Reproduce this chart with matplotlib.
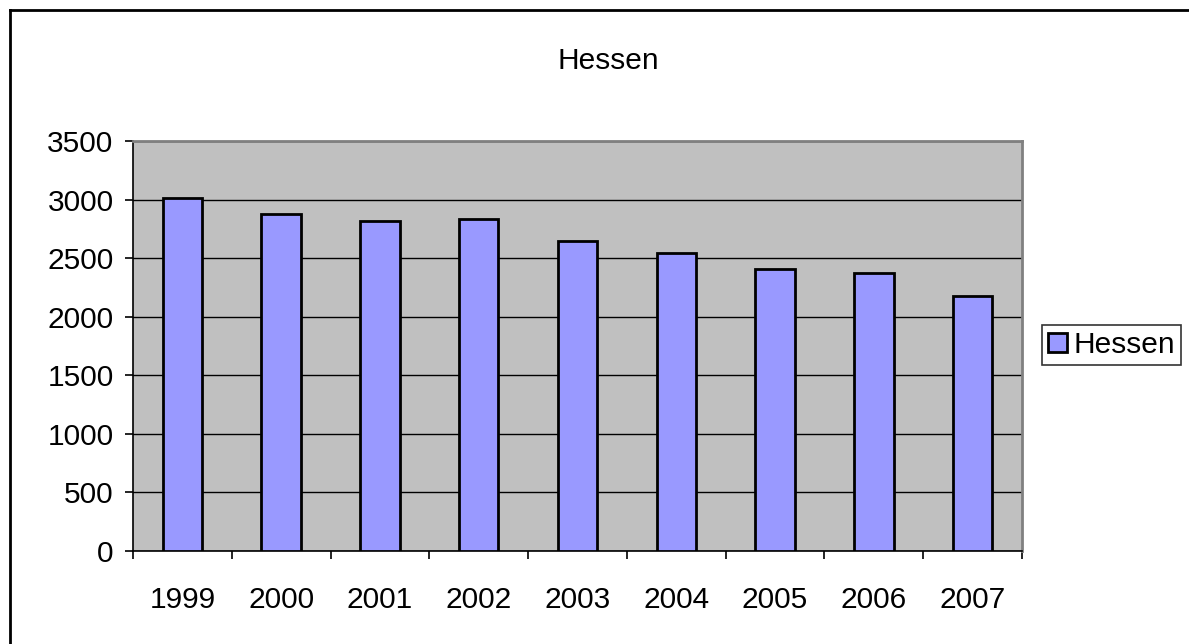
import matplotlib
matplotlib.use("Agg")
import matplotlib.pyplot as plt
from matplotlib.lines import Line2D

years = ["1999", "2000", "2001", "2002", "2003", "2004", "2005", "2006", "2007"]
hessen = [3010, 2880, 2820, 2835, 2650, 2540, 2410, 2370, 2175]
y_ticks = [0, 500, 1000, 1500, 2000, 2500, 3000, 3500]

plt.rcParams['font.family'] = ['Liberation Sans', 'DejaVu Sans']

W, H = 1189, 644
fig = plt.figure(figsize=(W / 100, H / 100), dpi=100)
fig.patch.set_facecolor('white')

# plot area in pixel coords
left, right, top, bottom = 133, 1022, 141, 551
ax = fig.add_axes([left / W, 1 - bottom / H, (right - left) / W, (bottom - top) / H])
ax.set_facecolor('#C0C0C0')

pos = [i + 0.5 for i in range(len(years))]
ax.bar(pos, hessen, width=0.4, color='#9999FF', edgecolor='black',
       linewidth=2.0, label='Hessen', zorder=3)

ax.set_xlim(0, len(years))
ax.set_ylim(0, 3500)
ax.set_yticks(y_ticks)
ax.set_yticklabels([str(v) for v in y_ticks])
ax.yaxis.grid(True, color='black', linewidth=1.0, zorder=1)
ax.set_axisbelow(True)

fs = 21.5
ax.set_xticks(pos)
ax.set_xticklabels(years)
ax.set_xticks(range(len(years) + 1), minor=True)
ax.tick_params(axis='x', which='major', length=0, pad=25, labelsize=fs)
ax.tick_params(axis='x', which='minor', length=6, width=1.2, direction='out', color='black')
ax.tick_params(axis='y', length=6, width=1.2, direction='out', pad=8, labelsize=fs)

for s in ['left', 'bottom']:
    ax.spines[s].set_color('black')
    ax.spines[s].set_linewidth(1.2)
for s in ['top', 'right']:
    ax.spines[s].set_color('#808080')
    ax.spines[s].set_linewidth(2.0)

fig.text(608 / W, 1 - 61 / H, 'Hessen', ha='center', va='center', fontsize=fs)

leg = fig.legend(loc='center left', bbox_to_anchor=(1042 / W, 1 - 345 / H),
                 fontsize=fs, frameon=True, fancybox=False, shadow=False,
                 handlelength=0.65, handleheight=0.65, handletextpad=0.2,
                 borderpad=0.2, borderaxespad=0)
leg.get_frame().set_edgecolor('black')
leg.get_frame().set_linewidth(1.2)

# outer chart border (left and top visible)
fig.add_artist(Line2D([10 / W, 10 / W], [0, 1 - 10 / H], transform=fig.transFigure,
                      color='black', linewidth=2))
fig.add_artist(Line2D([10 / W, 1], [1 - 10 / H, 1 - 10 / H], transform=fig.transFigure,
                      color='black', linewidth=2))

fig.savefig('out.png', dpi=100)
